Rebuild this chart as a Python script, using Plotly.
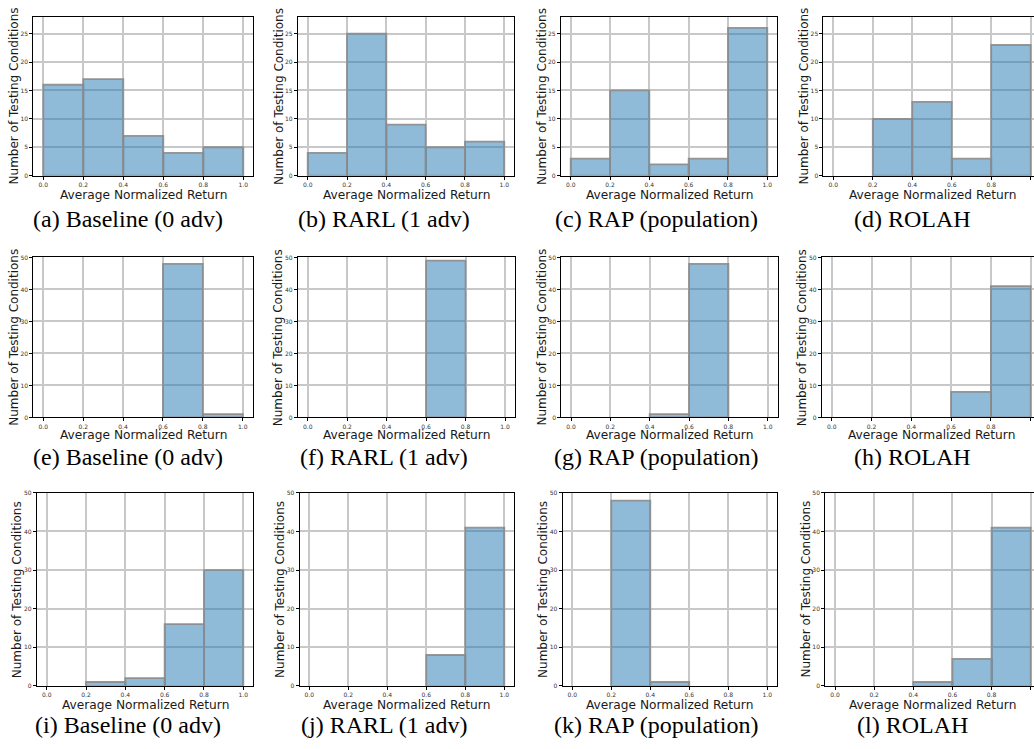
import plotly.graph_objects as go

# ---------------- data ----------------
bin_edges = [0.0, 0.2, 0.4, 0.6, 0.8, 1.0]
x_tick_vals = [0.0, 0.2, 0.4, 0.6, 0.8, 1.0]
x_tick_text = ["0.0", "0.2", "0.4", "0.6", "0.8", "1.0"]
y_ticks_row1 = [0, 5, 10, 15, 20, 25]
y_ticks_row23 = [0, 10, 20, 30, 40, 50]
y_max_row1 = 28
y_max_row23 = 50

counts_a = [16, 17, 7, 4, 5]
counts_b = [4, 25, 9, 5, 6]
counts_c = [3, 15, 2, 3, 26]
counts_d = [0, 10, 13, 3, 23]
counts_e = [0, 0, 0, 48, 1]
counts_f = [0, 0, 0, 49, 0]
counts_g = [0, 0, 1, 48, 0]
counts_h = [0, 0, 0, 8, 41]
counts_i = [0, 1, 2, 16, 30]
counts_j = [0, 0, 0, 8, 41]
counts_k = [0, 48, 1, 0, 0]
counts_l = [0, 0, 1, 7, 41]

captions = [
    "(a) Baseline (0 adv)", "(b) RARL (1 adv)", "(c) RAP (population)", "(d) ROLAH",
    "(e) Baseline (0 adv)", "(f) RARL (1 adv)", "(g) RAP (population)", "(h) ROLAH",
    "(i) Baseline (0 adv)", "(j) RARL (1 adv)", "(k) RAP (population)", "(l) ROLAH",
]
x_title = "Average Normalized Return"
y_title = "Number of Testing Conditions"

all_counts = [counts_a, counts_b, counts_c, counts_d,
              counts_e, counts_f, counts_g, counts_h,
              counts_i, counts_j, counts_k, counts_l]

# ---------------- layout geometry (pixels) ----------------
W, H = 1034, 749
# pixel x of value 0.0 and 1.0 for each panel
x_px = [
    (43.3, 243.3), (307.7, 504.3), (570.7, 767.3), (833.3, 1030.7),
    (43.3, 242.7), (307.7, 505.0), (571.0, 767.7), (831.7, 1030.7),
    (46.7, 243.3), (309.3, 504.3), (572.3, 767.3), (835.0, 1030.7),
]
row_tb = [(12.7, 173.3), (255.8, 417.3), (493.5, 688.3)]
xtitle_y = [192.7, 435.0, 707.7]
caption_y = [217.0, 457.0, 728.0]
caption_x = [128, 384, 656, 912]

centers = [(bin_edges[k] + bin_edges[k + 1]) / 2 for k in range(len(bin_edges) - 1)]
width = bin_edges[1] - bin_edges[0]

fig = go.Figure()
layout = dict(
    width=W, height=H,
    margin=dict(l=0, r=0, t=0, b=0),
    paper_bgcolor="white", plot_bgcolor="white",
    showlegend=False,
    annotations=[],
)

axis_font = dict(family="DejaVu Sans", size=6, color="#333333")
grid_color = "#c8c8c8"

for idx, counts in enumerate(all_counts):
    n = idx + 1
    row, col = divmod(idx, 4)
    x0, x1 = x_px[idx]
    scale = x1 - x0
    left = x0 - 0.05 * scale
    right = min(x0 + 1.05 * scale, W)
    r_end = (right - x0) / scale
    top, bottom = row_tb[row]

    shown = [c if c > 0 else None for c in counts]
    fig.add_trace(go.Bar(
        x=centers, y=shown, width=width,
        marker=dict(color="rgba(31,119,180,0.5)",
                    line=dict(color="rgba(140,140,140,0.9)", width=1.8)),
        xaxis=f"x{n}", yaxis=f"y{n}",
        hoverinfo="x+y",
    ))

    yt = y_ticks_row1 if row == 0 else y_ticks_row23
    ymax = y_max_row1 if row == 0 else y_max_row23

    layout[f"xaxis{n}"] = dict(
        domain=[left / W, right / W], anchor=f"y{n}",
        range=[-0.05, r_end], tickvals=x_tick_vals, ticktext=x_tick_text,
        ticks="outside", ticklen=3, tickwidth=0.8, tickcolor="black",
        tickfont=axis_font, showline=True, linecolor="black", linewidth=1,
        mirror=True, showgrid=True, gridcolor=grid_color, gridwidth=1.5,
        zeroline=False, fixedrange=True,
    )
    layout[f"yaxis{n}"] = dict(
        domain=[1 - bottom / H, 1 - top / H], anchor=f"x{n}",
        range=[0, ymax], tickvals=yt,
        ticks="outside", ticklen=3, tickwidth=0.8, tickcolor="black",
        tickfont=axis_font, showline=True, linecolor="black", linewidth=1,
        mirror=(col != 3), showgrid=True, gridcolor=grid_color, gridwidth=1.5,
        zeroline=False, fixedrange=True,
    )

    # axis titles
    layout["annotations"].append(dict(
        text=x_title, xref="paper", yref="paper",
        x=((x0 + x1) / 2) / W, y=1 - xtitle_y[row] / H,
        xanchor="center", yanchor="middle", showarrow=False,
        font=dict(family="DejaVu Sans", size=12.2, color="#1a1a1a"),
    ))
    layout["annotations"].append(dict(
        text=y_title, xref="paper", yref="paper",
        x=(left - 19) / W, y=1 - ((top + bottom) / 2) / H,
        xanchor="center", yanchor="middle", showarrow=False, textangle=-90,
        font=dict(family="DejaVu Sans", size=12, color="#1a1a1a"),
    ))
    # caption
    layout["annotations"].append(dict(
        text=captions[idx], xref="paper", yref="paper",
        x=caption_x[col] / W, y=1 - caption_y[row] / H,
        xanchor="center", yanchor="middle", showarrow=False,
        font=dict(family="Liberation Serif", size=24, color="black"),
    ))

fig.update_layout(**layout)
fig.write_html(
    "out.html",
    config={"displayModeBar": False, "staticPlot": False},
    post_script="document.body.style.margin='0';document.body.style.overflow='hidden';",
)
